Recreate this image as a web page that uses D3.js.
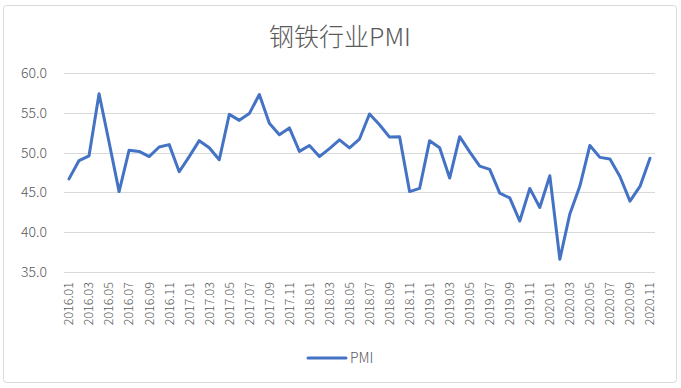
<!DOCTYPE html>
<html>
<head>
  <meta charset="utf-8">
  <title>钢铁行业PMI</title>
  <script src="https://cdn.jsdelivr.net/npm/d3@7/dist/d3.min.js"></script>
  <style>
    body { margin: 0; background: #fff; }
    svg { display: block; }
    text { font-family: "Noto Sans CJK SC", "Noto Sans", sans-serif; font-weight: 300; }
  </style>
</head>
<body>
  <svg width="681" height="388"></svg>
  <script>
    const svg = d3.select('svg');
    const width = +svg.attr('width');
    const height = +svg.attr('height');

    // months 2016.01 - 2020.11
    const years = ['2016', '2017', '2018', '2019', '2020'];
    const months = [];
    years.forEach(y => {
      for (let m = 1; m <= 12; m++) {
        if (y === '2020' && m > 11) break;
        months.push(`${y}.${String(m).padStart(2, '0')}`);
      }
    });

    const pmi = [
      46.7, 49.0, 49.6, 57.4, 51.3, 45.1, 50.3, 50.15, 49.5, 50.7, 51.0, 47.6,
      49.5, 51.5, 50.6, 49.1, 54.8, 54.05, 54.9, 57.3, 53.7, 52.25, 53.1, 50.15,
      50.9, 49.5, 50.5, 51.6, 50.6, 51.7, 54.85, 53.5, 51.95, 52.0, 45.1, 45.5,
      51.5, 50.6, 46.8, 52.0, 50.1, 48.3, 47.9, 44.9, 44.3, 41.4, 45.5, 43.1,
      47.1, 36.6, 42.3, 45.8, 50.9, 49.4, 49.2, 47.0, 43.9, 45.75, 49.3
    ];

    const yTicks = [35, 40, 45, 50, 55, 60];
    const tickLabels = months.filter((d, i) => i % 2 === 0);

    const margin = { top: 73, right: 26, bottom: 116, left: 64 };
    const innerWidth = width - margin.left - margin.right;
    const innerHeight = height - margin.top - margin.bottom;

    // chart border
    svg.append('rect')
      .attr('x', 3.5).attr('y', 5.5)
      .attr('width', 673).attr('height', 377)
      .attr('rx', 3)
      .attr('fill', 'none')
      .attr('stroke', '#d9d9d9');

    svg.append('text')
      .attr('x', 340).attr('y', 46)
      .attr('text-anchor', 'middle')
      .attr('font-size', 25)
      .attr('fill', '#595959')
      .text('钢铁行业PMI');

    const g = svg.append('g').attr('transform', `translate(${margin.left},${margin.top})`);

    const x = d3.scaleBand().domain(months).range([0, innerWidth]);
    const y = d3.scaleLinear().domain([35, 60]).range([innerHeight, 0]);

    // gridlines
    g.append('g')
      .selectAll('line')
      .data(yTicks)
      .join('line')
      .attr('x1', 0).attr('x2', innerWidth)
      .attr('y1', d => Math.round(y(d)) + 0.5)
      .attr('y2', d => Math.round(y(d)) + 0.5)
      .attr('stroke', '#d9d9d9');

    // y labels
    g.append('g')
      .selectAll('text')
      .data(yTicks)
      .join('text')
      .attr('x', -17)
      .attr('y', d => y(d))
      .attr('dy', '0.35em')
      .attr('text-anchor', 'end')
      .attr('font-size', 14)
      .attr('fill', '#595959')
      .text(d => d.toFixed(1));

    // x labels, rotated
    g.append('g')
      .selectAll('text')
      .data(tickLabels)
      .join('text')
      .attr('transform', d => `translate(${x(d) + x.bandwidth() / 2},${innerHeight + 10}) rotate(-90)`)
      .attr('dy', '0.35em')
      .attr('text-anchor', 'end')
      .attr('font-size', 12.5)
      .attr('fill', '#595959')
      .text(d => d);

    const line = d3.line()
      .x((d, i) => x(months[i]) + x.bandwidth() / 2)
      .y(d => y(d));

    g.append('path')
      .datum(pmi)
      .attr('d', line)
      .attr('fill', 'none')
      .attr('stroke', '#4472c4')
      .attr('stroke-width', 3)
      .attr('stroke-linejoin', 'round')
      .attr('stroke-linecap', 'round');

    // legend
    const legend = svg.append('g').attr('transform', 'translate(308,358)');
    legend.append('line')
      .attr('x1', 0).attr('x2', 38)
      .attr('stroke', '#4472c4')
      .attr('stroke-width', 3)
      .attr('stroke-linecap', 'round');
    legend.append('text')
      .attr('x', 42)
      .attr('dy', '0.35em')
      .attr('font-size', 14)
      .attr('fill', '#595959')
      .text('PMI');
  </script>
</body>
</html>
